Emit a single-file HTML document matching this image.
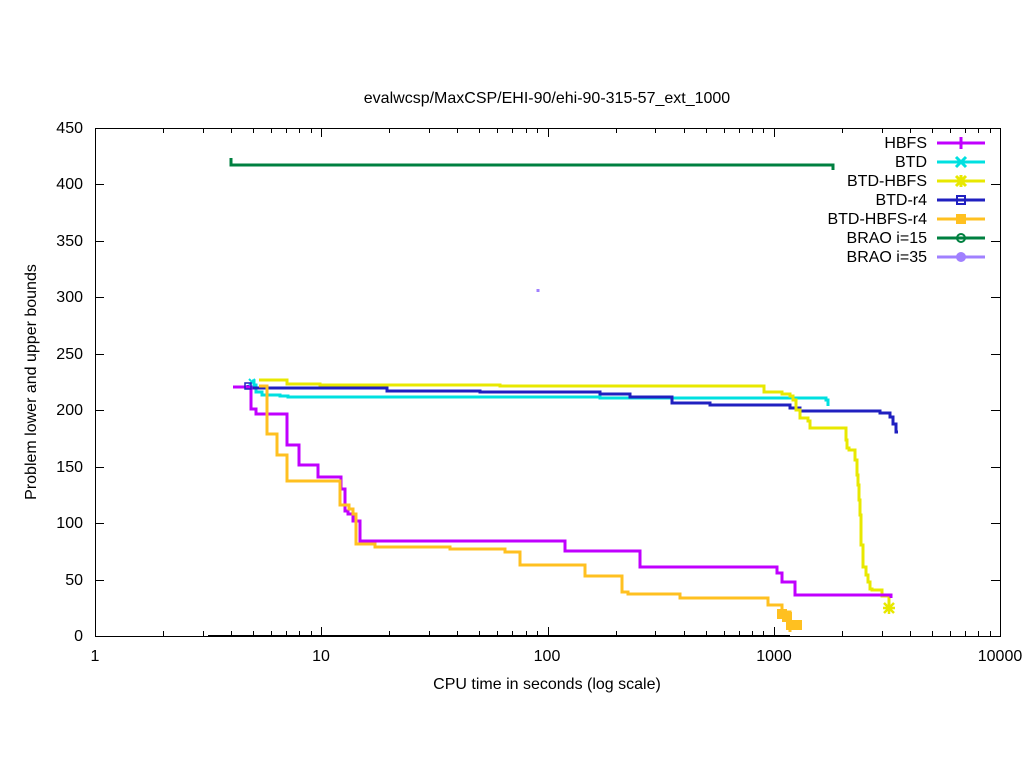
<!DOCTYPE html><html><head><style>body{margin:0;background:#fff}svg{display:block}text{font-family:"Liberation Sans",sans-serif;font-size:16px;fill:#000}</style></head><body>
<svg width="1024" height="768" xmlns="http://www.w3.org/2000/svg">
<text x="547" y="103" text-anchor="middle">evalwcsp/MaxCSP/EHI-90/ehi-90-315-57_ext_1000</text>
<g stroke="#000" stroke-width="1" fill="none">
<rect x="95.5" y="128.5" width="905" height="508"/>
</g>
<g text-anchor="end">
<text x="83" y="641">0</text><text x="83" y="585">50</text><text x="83" y="528">100</text><text x="83" y="472">150</text><text x="83" y="415">200</text><text x="83" y="359">250</text><text x="83" y="302">300</text><text x="83" y="246">350</text><text x="83" y="189">400</text><text x="83" y="133">450</text>
</g>
<g text-anchor="middle">
<text x="95" y="661">1</text><text x="321" y="661">10</text><text x="547" y="661">100</text><text x="774" y="661">1000</text><text x="1000" y="661">10000</text>
<text x="547" y="689">CPU time in seconds (log scale)</text>
</g>
<text transform="translate(36,382) rotate(-90)" text-anchor="middle">Problem lower and upper bounds</text>
<g fill="none" stroke-width="3">
<path stroke="#000" stroke-width="1" d="M208 635.5H790"/>
<path stroke="#008040" d="M231 158V165H833V170"/>
<path stroke="#00e0e0" d="M252 381H254V385H256V392H262V395H280V396H288V397H600V398H826V400H828V406"/>
<path stroke="#2020c0" d="M248 385V388H387V391H480V392H600V394H630V397H672V403H710V405H790V408H800V411H880V413H890V417H893V424H896V432H898"/>
<path stroke="#e8e800" d="M259 380H287V384H320V385H500V386H740H764V392H782V394H790V396H793V400H796V410H800V418H808V421H810V428H846V440H847V448H849V450H855V460H857V475H858V485H859V500H860V515H861V545H863V567H866V575H868V582H870V589H872V590H882V596H889V608"/>
<path stroke="#c000ff" d="M233 387H251V409H256V414H287V445H299V465H318V477H341V489H345V511H348V514H353V521H360V541H565V551H640V567H777V573H782V582H795V595H891V598"/>
<path stroke="#ffc020" d="M259 386H267V434H277V455H287V481H340V505H349V509H353V514H356V544H375V547H450V549H505V552H520V565H585V576H622V592H628V594H680V598H768V605H782V612H790V632"/>
<path stroke="#a080ff" d="M538 289V292"/>
</g>
<g fill="#ffc020"><rect x="777" y="609" width="10" height="10"/><rect x="782" y="612" width="10" height="10"/><rect x="786" y="620" width="10" height="10"/><rect x="792" y="620" width="10" height="10"/></g>
<g stroke="#e8e800" stroke-width="2.5"><path d="M884 603l10 10M884 613l10-10M889 602v12M883 608h12"/></g>
<g stroke="#00e0e0" stroke-width="2"><path d="M249 379l6 6M249 385l6-6"/></g>
<rect x="245" y="383" width="6" height="6" fill="none" stroke="#2020c0" stroke-width="1.5"/>
<g text-anchor="end">
<text x="927" y="148">HBFS</text><text x="927" y="167">BTD</text><text x="927" y="186">BTD-HBFS</text><text x="927" y="205">BTD-r4</text><text x="927" y="224">BTD-HBFS-r4</text><text x="927" y="243">BRAO i=15</text><text x="927" y="262">BRAO i=35</text>
</g>
<g stroke-width="3" fill="none">
<path stroke="#c000ff" d="M937 143H985M961 137v12"/>
<path stroke="#00e0e0" d="M937 162H985M956 157l10 10M956 167l10-10"/>
<path stroke="#e8e800" d="M937 181H985M956 176l10 10M956 186l10-10M961 175v12M955 181h12"/>
<path stroke="#2020c0" d="M937 200H985"/><rect x="957" y="196" width="8" height="8" stroke="#2020c0" stroke-width="2" fill="none"/>
<path stroke="#ffc020" d="M937 219H985"/><rect x="956" y="214" width="10" height="10" fill="#ffc020" stroke="none"/>
<path stroke="#008040" d="M937 238H985"/><circle cx="961" cy="238" r="4" stroke="#008040" stroke-width="2" fill="none"/>
<path stroke="#a080ff" d="M937 257H985"/><circle cx="961" cy="257" r="5" fill="#a080ff" stroke="none"/>
</g>
<g stroke="#000" stroke-width="1" id="tg"></g>
<script>
var g=document.getElementById('tg'),d='';
function X(v){return 95+226.25*Math.log10(v);}
for(var e=0;e<4;e++)for(var m=1;m<10;m++){var x=X(m*Math.pow(10,e)),L=m==1?9:5;x=Math.round(x)+0.5;d+='M'+x+' 636v-'+L+'M'+x+' 128v'+L;}
d+='M1000.5 636v-9M1000.5 128v9';
for(var i=0;i<=9;i++){var y=Math.round(636-i*508/450*50)+0.5;d+='M95 '+y+'h9M1000 '+y+'h-9';}
var p=document.createElementNS('http://www.w3.org/2000/svg','path');p.setAttribute('d',d);g.appendChild(p);
</script>
</svg></body></html>
